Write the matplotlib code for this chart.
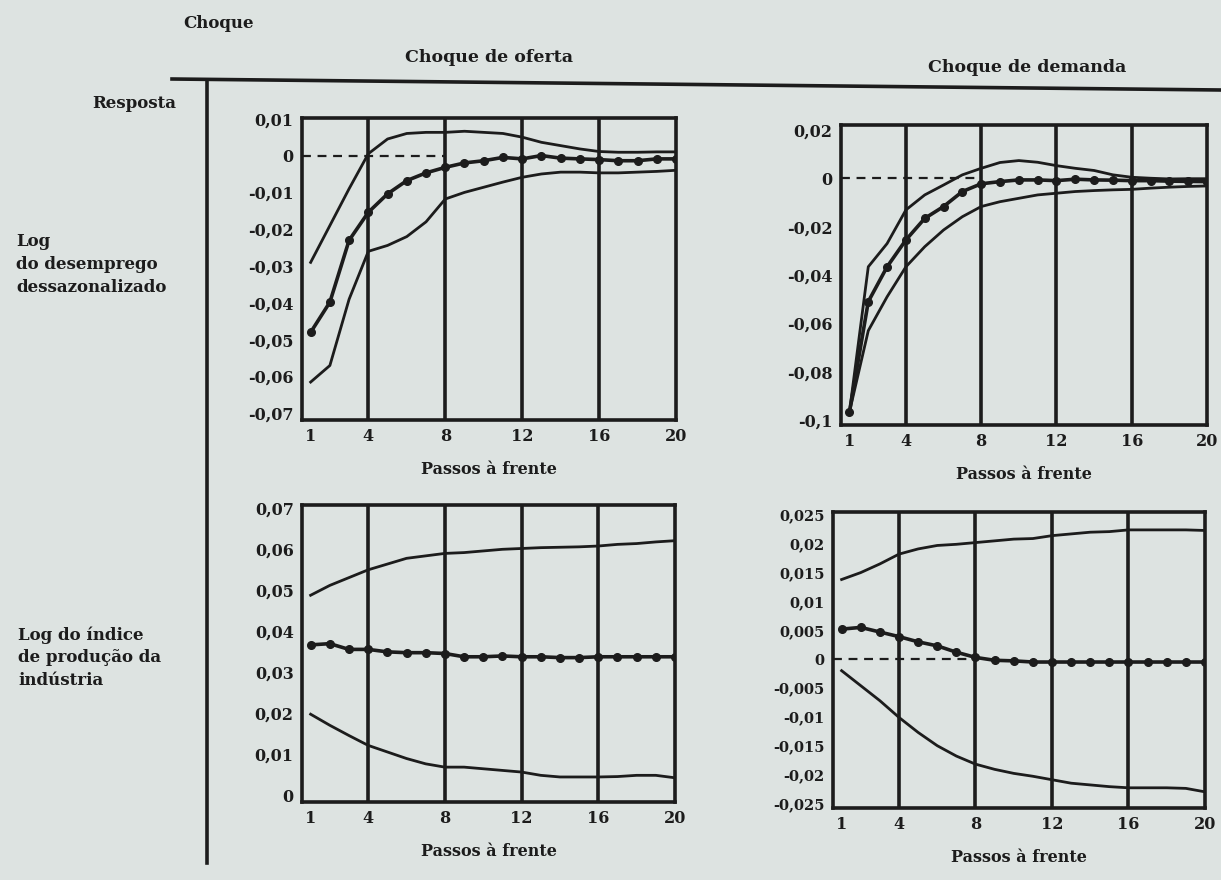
import numpy as np
import matplotlib
matplotlib.use("Agg")
import matplotlib.pyplot as plt
from matplotlib.lines import Line2D

plt.rcParams["font.family"] = ["DejaVu Serif"]
plt.rcParams["font.weight"] = "bold"
plt.rcParams["axes.labelweight"] = "bold"

BG = "#dde3e1"
INK = "#1c1c1c"

# ── Data ─────────────────────────────────────────────────────────────────────
passos = np.arange(1, 21)
xticks = [1, 4, 8, 12, 16, 20]
grid_x = [4, 8, 12, 16]

# Choque de oferta -> desemprego
of_des_media = [-0.048, -0.0398, -0.023, -0.0154, -0.0104, -0.0068, -0.0047, -0.0032,
                -0.002, -0.0014, -0.0005, -0.0009, 0.0, -0.0007, -0.0009, -0.0011,
                -0.0014, -0.0014, -0.0009, -0.0009]
of_des_sup = [-0.029, -0.019, -0.009, 0.0005, 0.0045, 0.006, 0.0063, 0.0063, 0.0066,
              0.0063, 0.006, 0.005, 0.0036, 0.0027, 0.0018, 0.0011, 0.0009, 0.0009,
              0.001, 0.001]
of_des_inf = [-0.0615, -0.057, -0.039, -0.026, -0.0244, -0.022, -0.018, -0.0118, -0.01,
              -0.0086, -0.0072, -0.0059, -0.005, -0.0045, -0.0045, -0.0047, -0.0047,
              -0.0045, -0.0043, -0.004]

# Choque de demanda -> desemprego
de_des_media = [-0.0966, -0.051, -0.0366, -0.0255, -0.0166, -0.0117, -0.0055, -0.0023,
                -0.0014, -0.0007, -0.0007, -0.001, -0.0004, -0.0007, -0.0008, -0.001,
                -0.001, -0.0012, -0.0013, -0.0014]
de_des_sup = [-0.0966, -0.0366, -0.027, -0.0131, -0.0069, -0.0028, 0.0014, 0.0041,
              0.0065, 0.0073, 0.0066, 0.0052, 0.0041, 0.0032, 0.0014, 0.0004, 0.0,
              -0.0003, -0.0002, -0.0002]
de_des_inf = [-0.0966, -0.063, -0.049, -0.0366, -0.0283, -0.0214, -0.0159, -0.0117,
              -0.0097, -0.0083, -0.0069, -0.0062, -0.0055, -0.0051, -0.0048, -0.0046,
              -0.0041, -0.0037, -0.0034, -0.0032]

# Choque de oferta -> produção industrial
of_prod_media = [0.0367, 0.037, 0.0356, 0.0356, 0.035, 0.0348, 0.0348, 0.0346, 0.0338,
                 0.0338, 0.034, 0.0338, 0.0338, 0.0336, 0.0336, 0.0338, 0.0338, 0.0338,
                 0.0338, 0.0338]
of_prod_sup = [0.0488, 0.0512, 0.0531, 0.055, 0.0564, 0.0578, 0.0584, 0.059, 0.0592,
               0.0596, 0.06, 0.0602, 0.0604, 0.0605, 0.0606, 0.0608, 0.0612, 0.0614,
               0.0618, 0.0621]
of_prod_inf = [0.0198, 0.0171, 0.0146, 0.0122, 0.0106, 0.009, 0.0077, 0.0069, 0.0069,
               0.0065, 0.0061, 0.0057, 0.0049, 0.0045, 0.0045, 0.0045, 0.0046, 0.0049,
               0.0049, 0.0043]

# Choque de demanda -> produção industrial
de_prod_media = [0.0052, 0.0055, 0.0047, 0.0039, 0.003, 0.0023, 0.0012, 0.0003, -0.0002,
                 -0.0003, -0.0005, -0.0005, -0.0005, -0.0005, -0.0005, -0.0005, -0.0005,
                 -0.0005, -0.0005, -0.0005]
de_prod_sup = [0.0138, 0.015, 0.0165, 0.0182, 0.0191, 0.0197, 0.0199, 0.0202, 0.0205,
               0.0208, 0.0209, 0.0214, 0.0217, 0.022, 0.0221, 0.0224, 0.0224, 0.0224,
               0.0224, 0.0223]
de_prod_inf = [-0.002, -0.0046, -0.0072, -0.0101, -0.0127, -0.015, -0.0168, -0.0182,
               -0.0191, -0.0198, -0.0203, -0.0209, -0.0215, -0.0218, -0.0221, -0.0223,
               -0.0223, -0.0223, -0.0224, -0.023]

yt_of_des = [0.01, 0.0, -0.01, -0.02, -0.03, -0.04, -0.05, -0.06, -0.07]
yl_of_des = ["0,01", "0", "-0,01", "-0,02", "-0,03", "-0,04", "-0,05", "-0,06", "-0,07"]
yt_de_des = [0.02, 0.0, -0.02, -0.04, -0.06, -0.08, -0.1]
yl_de_des = ["0,02", "0", "-0,02", "-0,04", "-0,06", "-0,08", "-0,1"]
yt_of_prod = [0.07, 0.06, 0.05, 0.04, 0.03, 0.02, 0.01, 0.0]
yl_of_prod = ["0,07", "0,06", "0,05", "0,04", "0,03", "0,02", "0,01", "0"]
yt_de_prod = [0.025, 0.02, 0.015, 0.01, 0.005, 0.0, -0.005, -0.01, -0.015, -0.02, -0.025]
yl_de_prod = ["0,025", "0,02", "0,015", "0,01", "0,005", "0", "-0,005", "-0,01",
              "-0,015", "-0,02", "-0,025"]

# ── Figure ────────────────────────────────────────────────────────────────────
W, H = 1221, 880
fig = plt.figure(figsize=(W / 100, H / 100), dpi=100, facecolor=BG)
XMIN = 0.55


def box(l, t, r, b):
    return fig.add_axes([l / W, 1 - b / H, (r - l) / W, (b - t) / H])


def painel(ax, media, sup, inf, ylim, yticks, ylabels, zero=True, ysize=11.5):
    ax.set_facecolor("none")
    for x in grid_x:
        ax.axvline(x, color=INK, lw=2.6, zorder=2)
    if zero:
        ax.hlines(0, XMIN, 8, color=INK, lw=1.6, linestyles=(0, (4, 3)), zorder=2)
    ax.plot(passos, sup, color=INK, lw=2.0, zorder=3)
    ax.plot(passos, inf, color=INK, lw=2.0, zorder=3)
    ax.plot(passos, media, color=INK, lw=2.6, marker="o", ms=5.5, zorder=4)
    ax.set_xlim(XMIN, 20)
    ax.set_ylim(*ylim)
    ax.set_xticks(xticks)
    ax.set_xticklabels([str(t) for t in xticks], fontsize=11.5)
    ax.set_yticks(yticks)
    ax.set_yticklabels(ylabels, fontsize=ysize)
    ax.tick_params(length=0, pad=6, colors=INK)
    for s in ax.spines.values():
        s.set_linewidth(2.6)
        s.set_color(INK)
    ax.set_xlabel("Passos à frente", fontsize=11.5, labelpad=11, color=INK)


ax1 = box(302, 118, 676, 420)
painel(ax1, of_des_media, of_des_sup, of_des_inf, (-0.0718, 0.0102), yt_of_des, yl_of_des)

ax2 = box(841, 125, 1207, 425)
painel(ax2, de_des_media, de_des_sup, de_des_inf, (-0.102, 0.022), yt_de_des, yl_de_des)

ax3 = box(302, 505, 675, 802)
painel(ax3, of_prod_media, of_prod_sup, of_prod_inf, (-0.0016, 0.0708), yt_of_prod,
       yl_of_prod, zero=False)

ax4 = box(833, 512, 1205, 808)
painel(ax4, de_prod_media, de_prod_sup, de_prod_inf, (-0.0258, 0.0255), yt_de_prod,
       yl_de_prod, ysize=10.5)

# ── Headers and frame lines ───────────────────────────────────────────────────
fig.add_artist(Line2D([172 / W, 1.0], [1 - 79 / H, 1 - 90 / H], color=INK, lw=2.6))
fig.add_artist(Line2D([207 / W, 207 / W], [1 - 81 / H, 1 - 863 / H], color=INK, lw=2.6))

fig.text(218 / W, 1 - 24 / H, "Choque", ha="center", va="center", fontsize=12, color=INK)
fig.text(489 / W, 1 - 58 / H, "Choque de oferta", ha="center", va="center",
         fontsize=12.5, color=INK)
fig.text(1027 / W, 1 - 67 / H, "Choque de demanda", ha="center", va="center",
         fontsize=12.5, color=INK)
fig.text(176 / W, 1 - 104 / H, "Resposta", ha="right", va="center", fontsize=12, color=INK)
fig.text(16 / W, 1 - 233 / H, "Log\ndo desemprego\ndessazonalizado", ha="left", va="top",
         fontsize=12, color=INK, linespacing=1.45)
fig.text(18 / W, 1 - 626 / H, "Log do índice\nde produção da\nindústria", ha="left",
         va="top", fontsize=12, color=INK, linespacing=1.45)

fig.savefig("out.png", dpi=100, facecolor=BG)
